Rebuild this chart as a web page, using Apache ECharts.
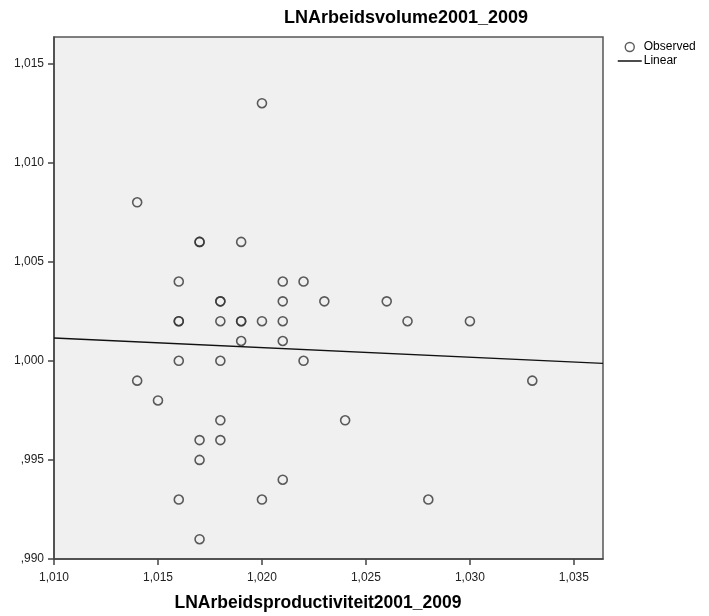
<!DOCTYPE html>
<html>
<head>
<meta charset="utf-8">
<script src="https://cdn.jsdelivr.net/npm/echarts@6/dist/echarts.min.js"></script>
<style>html,body{margin:0;padding:0;background:#fff}#c{width:709px;height:616px}</style>
</head>
<body>
<div id="c"></div>
<script>
var yTitle = 'LNArbeidsvolume2001_2009';
var xTitle = 'LNArbeidsproductiviteit2001_2009';
var xTicks = [1.010, 1.015, 1.020, 1.025, 1.030, 1.035];
var yTicks = [0.990, 0.995, 1.000, 1.005, 1.010, 1.015];
var obsX = [1.014,1.014,1.015,1.016,1.016,1.016,1.016,1.016,1.017,1.017,1.017,1.017,1.017,1.018,1.018,1.018,1.018,1.018,1.018,1.019,1.019,1.019,1.019,1.020,1.020,1.020,1.021,1.021,1.021,1.021,1.021,1.022,1.022,1.023,1.024,1.026,1.027,1.028,1.030,1.033];
var obsY = [1.008,0.999,0.998,1.004,1.002,1.002,1.000,0.993,1.006,1.006,0.996,0.995,0.991,1.003,1.003,1.002,1.000,0.997,0.996,1.006,1.002,1.002,1.001,1.013,1.002,0.993,1.004,1.003,1.002,1.001,0.994,1.004,1.000,1.003,0.997,1.003,1.002,0.993,1.002,0.999];
var fitX = [1.010, 1.0364];
var fitY = [1.00115, 0.99987];

function fmt(v){
  var s = (Math.round(v*1000)/1000).toFixed(3).replace('.', ',');
  if (s.indexOf('0,') === 0) s = s.substring(1);
  return s;
}
var obsData = obsX.map(function(x,i){return [x, obsY[i]];});
var fitData = fitX.map(function(x,i){return [x, fitY[i]];});

var chart = echarts.init(document.getElementById('c'), null, {renderer:'canvas'});
chart.setOption({
  animation: false,
  backgroundColor: '#ffffff',
  textStyle: {fontFamily: 'Liberation Sans, Arial, sans-serif'},
  title: [
    {text: yTitle, left: 401, top: 4, textAlign: 'center',
     textStyle: {fontSize: 18, fontWeight: 'bold', color: '#000', fontFamily: 'Liberation Sans, Arial, sans-serif'}},
    {text: xTitle, left: 313, top: 589, textAlign: 'center',
     textStyle: {fontSize: 17.5, fontWeight: 'bold', color: '#000', fontFamily: 'Liberation Sans, Arial, sans-serif'}}
  ],
  legend: {
    orient: 'vertical', left: 612, top: 36, itemWidth: 24, itemHeight: 9, itemGap: 2,
    textStyle: {fontSize: 12, color: '#000', padding: [0,0,0,-3]},
    data: [
      {name: 'Observed', icon: 'circle', itemStyle: {color: '#fff', borderColor: '#333', borderWidth: 1.4}},
      {name: 'Linear', itemStyle: {opacity: 0}, lineStyle: {color: '#111', width: 1.5}}
    ]
  },
  grid: {left: 54, right: 106, top: 37, bottom: 57, show: true, backgroundColor: '#f0f0f0', borderColor: '#555', borderWidth: 1.5},
  xAxis: {
    type: 'value', min: 1.010, max: 1.0364,
    axisLine: {show: true, onZero: false, lineStyle: {color: '#444', width: 1.5}},
    axisTick: {show: true, length: 6, customValues: xTicks, lineStyle: {color: '#444', width: 1.5}},
    axisLabel: {customValues: xTicks, formatter: fmt, color: '#222', fontSize: 12, margin: 13},
    splitLine: {show: false}
  },
  yAxis: {
    type: 'value', min: 0.990, max: 1.01634,
    axisLine: {show: true, onZero: false, lineStyle: {color: '#444', width: 1.5}},
    axisTick: {show: true, length: 6, customValues: yTicks, lineStyle: {color: '#444', width: 1.5}},
    axisLabel: {customValues: yTicks, formatter: fmt, color: '#222', fontSize: 12, margin: 10},
    splitLine: {show: false}
  },
  series: [
    {name: 'Observed', type: 'scatter', data: obsData, symbol: 'circle', symbolSize: 9,
     itemStyle: {color: 'rgba(0,0,0,0)', borderColor: '#333', borderWidth: 1.6}, z: 3},
    {name: 'Linear', type: 'line', data: fitData, symbol: 'none', showSymbol: false,
     lineStyle: {color: '#111', width: 1.4}, itemStyle: {color: '#111'}, z: 2}
  ]
});
</script>
</body>
</html>
